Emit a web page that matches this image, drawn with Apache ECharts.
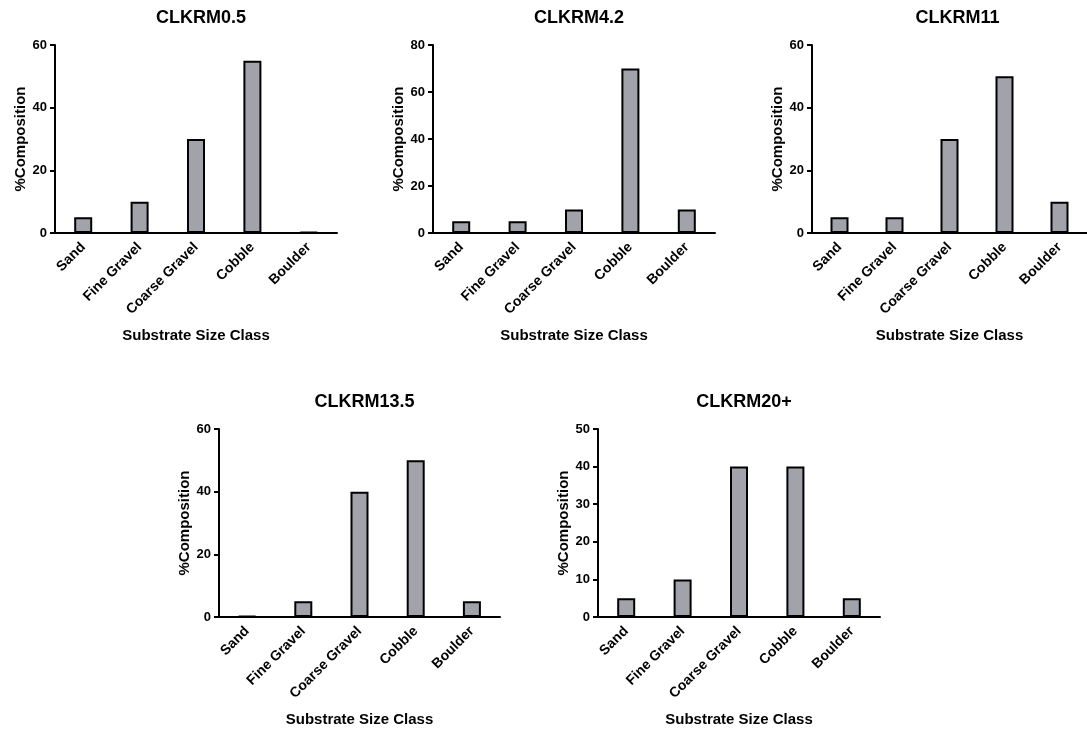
<!DOCTYPE html>
<html>
<head>
<meta charset="utf-8">
<script src="https://cdn.jsdelivr.net/npm/echarts@6/dist/echarts.min.js"></script>
<style>
html,body{margin:0;padding:0;background:#fff;}
#chart{width:1087px;height:731px;}
</style>
</head>
<body>
<div id="chart"></div>
<script>
const categories = ['Sand', 'Fine Gravel', 'Coarse Gravel', 'Cobble', 'Boulder'];
const panelTitles = ['CLKRM0.5', 'CLKRM4.2', 'CLKRM11', 'CLKRM13.5', 'CLKRM20+'];
const valuesCLKRM0_5 = [5, 10, 30, 55, 0.3];
const valuesCLKRM4_2 = [5, 5, 10, 70, 10];
const valuesCLKRM11 = [5, 5, 30, 50, 10];
const valuesCLKRM13_5 = [0.3, 5, 40, 50, 5];
const valuesCLKRM20 = [5, 10, 40, 40, 5];
const yMax = [60, 80, 60, 60, 50];
const yInterval = [20, 20, 20, 20, 10];
const yAxisTitle = '%Composition';
const xAxisTitle = 'Substrate Size Class';

const allValues = [valuesCLKRM0_5, valuesCLKRM4_2, valuesCLKRM11, valuesCLKRM13_5, valuesCLKRM20];

const layout = [
  {left: 55, top: 45, width: 282, height: 188},
  {left: 433, top: 45, width: 282, height: 188},
  {left: 812, top: 45, width: 281, height: 188},
  {left: 219, top: 429, width: 281, height: 188},
  {left: 598, top: 429, width: 282, height: 188}
];

const FONT = 'Liberation Sans, Arial, sans-serif';
const grids = [], xAxes = [], yAxes = [], series = [], titles = [];
layout.forEach((g, i) => {
  grids.push({left: g.left, top: g.top, width: g.width, height: g.height, containLabel: false});
  titles.push({
    text: panelTitles[i],
    left: g.left + g.width / 2,
    top: g.top - 41,
    textAlign: 'center',
    textStyle: {fontFamily: FONT, fontWeight: 'bold', fontSize: 18, color: '#000'}
  });
  xAxes.push({
    type: 'category', gridIndex: i, data: categories,
    name: xAxisTitle, nameLocation: 'middle', nameGap: 95,
    nameTextStyle: {fontFamily: FONT, fontWeight: 'bold', fontSize: 15, color: '#000'},
    axisLine: {lineStyle: {color: '#000', width: 2}},
    axisTick: {alignWithLabel: true, length: 5, lineStyle: {color: '#000', width: 2}},
    axisLabel: {rotate: 45, interval: 0, margin: 12, fontFamily: FONT, fontWeight: 'bold', fontSize: 14, color: '#000'}
  });
  yAxes.push({
    type: 'value', gridIndex: i, min: 0, max: yMax[i], interval: yInterval[i],
    name: yAxisTitle, nameLocation: 'middle', nameGap: 27,
    nameTextStyle: {fontFamily: FONT, fontWeight: 'bold', fontSize: 15, color: '#000'},
    axisLine: {show: true, lineStyle: {color: '#000', width: 2}},
    axisTick: {show: true, length: 5, lineStyle: {color: '#000', width: 2}},
    axisLabel: {margin: 8, fontFamily: FONT, fontWeight: 'bold', fontSize: 13, color: '#000'},
    splitLine: {show: false}
  });
  series.push({
    type: 'bar', xAxisIndex: i, yAxisIndex: i, data: allValues[i],
    barWidth: 18,
    itemStyle: {color: '#a2a2aa', borderColor: '#000', borderWidth: 2},
    silent: true
  });
});

const chart = echarts.init(document.getElementById('chart'), null, {renderer: 'canvas'});
chart.setOption({
  animation: false,
  backgroundColor: '#fff',
  title: titles,
  grid: grids,
  xAxis: xAxes,
  yAxis: yAxes,
  series: series
});
</script>
</body>
</html>
